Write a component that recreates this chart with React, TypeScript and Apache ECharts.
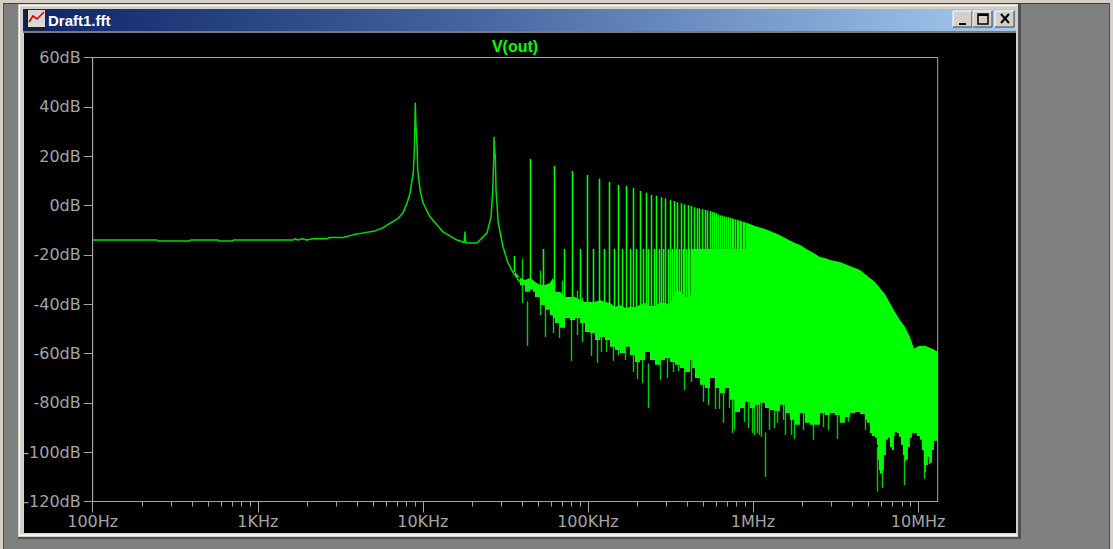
import React, { useEffect, useRef } from "react";
import * as echarts from "echarts";

// ---- Data (frequencies in kHz, levels in dB) ----
const curveKHz = [0.1,0.157,0.245,0.25,0.388,0.39,0.574,0.58,0.708,0.71,0.99,1.635,1.68,1.75,1.86,1.985,2.15,2.63,2.7,3.285,3.775,4.464,5.13,5.74,6.5,7.08,7.59,8.02,8.36,8.59,8.75,8.9,9.0,9.07,9.215,9.31,9.62,10.03,11.06,13.25,16.11,17.8,18.0,18.2,18.53,21.3,24.48,25.89,26.52,26.9,27.0,27.1,27.49,27.75,28.64,30.6,32.8,35.3,38.8];
const curveDb = [-14,-14,-14,-14.4,-14.4,-14,-14,-14.4,-14.4,-14,-14,-14,-13.5,-14,-13.5,-14,-13.5,-13.5,-13,-13,-11.9,-11,-10.3,-9,-6.7,-5.2,-2.9,1,4.9,10,13.2,24,41.7,33,25.3,14.4,6.3,1,-4.6,-10.7,-14,-15,-10.6,-15.2,-15.2,-15.2,-11.1,-4.6,6.3,20,27.9,24,19.7,6.3,-7.1,-16.8,-23.3,-27.3,-31];

const topKHz = [36.18,38.79,41.59,44.6,46.5,47.8,51.3,55,58.9,61.4,63.2,67.8,72.6,77.9,83.5,89.6,96,103,110.4,118.4,126.9,136.1,145.9,156.4,167.7,179.8,192.8,206.8,221.7,237.7,254.8,273.2,293,314,337,361,387,415,428,431,915,918,958,1027,1102,1181,1266,1358,1456,1561,1674,1794,1924,2063,2212,2372,2543,2727,2924,3135,3361,3604,3864,4143,4442,4763,5107,5476,5871,6295,6750,7237,7760,8320,8921,9456,9900,10256,10997,11791,12642,13180];
const topDb = [-26.9,-29.4,-30.2,-29.4,-30.2,-31,-32.2,-32.2,-31.4,-29.4,-35,-35,-37.1,-37.1,-37.1,-38.3,-39.1,-39.1,-39.1,-38.3,-39.1,-39.5,-41.1,-40.3,-41.5,-41.1,-41.1,-40.3,-39.5,-40.7,-40.7,-39.5,-39.5,-40.3,-35,-34.6,-37.1,-37.1,-34.2,-17.6,-17.6,-7.1,-7.5,-8.3,-8.9,-9.5,-10.3,-11.1,-12.1,-13.2,-14.2,-15.2,-16,-17.2,-18.4,-19.6,-20.9,-21.3,-22.1,-22.5,-22.9,-23.7,-24.5,-25.3,-26.1,-27.8,-29.4,-31,-33.4,-35.9,-39.5,-43.2,-46.4,-49.2,-53.3,-58.1,-57.3,-56.9,-56.9,-57.7,-58.6,-59.4];

const lowKHz = [36.18,38.79,41.59,44.6,46.5,47.8,51.3,55,58.9,61.4,63.2,67.8,72.6,77.9,83.5,89.6,96,103,110.4,118.4,126.9,136.1,145.9,156.4,167.7,179.8,192.8,206.8,221.7,237.7,254.8,273.2,293,314,337,361,387,415,428,445,477,512,549,588,631,676,725,777,834,894,958,1027,1102,1181,1266,1358,1456,1561,1674,1794,1924,2063,2212,2372,2543,2727,2924,3135,3361,3604,3864,4143,4442,4763,4898,5107,5252,5476,5631,5710,5790,5871,6037,6208,6384,6565,6750,6942,7138,7237,7442,7653,7870,8092,8320,8437,8676,8921,9174,9565,9836,10256,10546,10845,10997,11152,11467,11791,12125,12468,13180];
const lowDb = [-29,-32.2,-35,-34.2,-35,-37.1,-40.3,-42.3,-44.4,-45.6,-47.6,-49.6,-45.6,-46.4,-45.6,-47.6,-51.3,-51.7,-54.5,-53.3,-54.5,-57.3,-58.6,-59.8,-57.3,-60.6,-63.4,-62.6,-59.4,-62.6,-64.6,-62.6,-61.8,-63.4,-64.6,-65.9,-67.5,-62.6,-66,-69.9,-72.7,-74,-69.9,-74,-76,-74,-78.8,-83.7,-82.1,-79.6,-82.1,-80.8,-80,-82.1,-82.9,-83.3,-80.8,-84.1,-86.9,-88.9,-84.1,-88.1,-88.9,-88.9,-84.1,-84.9,-84.1,-84.9,-88.1,-85.7,-84.1,-83.7,-84.5,-86.9,-88.1,-92.2,-93.4,-94.2,-97,-103.1,-107.2,-108.8,-107.2,-101.1,-95,-94.2,-97.9,-99.1,-93.4,-91.8,-92.2,-93.8,-97,-101.1,-103.9,-103.1,-97.9,-94.2,-92.2,-92.2,-93.4,-95,-99.1,-105.2,-108,-105.2,-101.9,-104.3,-99.1,-95.4,-94.6];

const oddKHz = [45,63,81,99,117,135,153,171,189,207,225,243,261,279,297,315,333,351,369,387,405,423,441,459,477,495,513,531,549,567,585,603,621,639,657,675,693,711,729,747,765,783,801,819,837,855,873,891,909];
const oddTop = [18.9,16,14,12.4,10.9,9.5,8.3,7.9,7.1,5.9,5.2,4.3,3.9,3.3,2.9,2.2,1.8,1.3,0.9,0.5,0.2,-0.2,-0.7,-1.1,-1.2,-1.5,-1.8,-2,-2.2,-2.6,-2.8,-3.1,-3.6,-4,-4.1,-4.4,-4.6,-4.7,-5,-5.3,-5.4,-5.6,-5.9,-6,-6.2,-6.4,-6.6,-6.8,-7];
const oddFloor = [-32,-40];

const evenKHz = [36,54,72,90,108,126,144,162,180,198,216,234,252,270,288,306,324,342,360,378,396,414,432,450];
const evenTop = [-20.5,-17.6,-17.6,-17.6,-17.6,-17.6,-17.6,-17.6,-17.6,-17.6,-17.6,-17.6,-17.6,-17.6,-17.6,-17.6,-17.6,-17.6,-17.6,-17.6,-17.6,-17.6,-17.6,-17.6];
const evenFloor = [-27,-36,-40];
const spikeFloor = -44;

const dipKHz = [40.3,43.2,51.3,55,62.3,66.9,70.6,79.8,86.9,93,105,114,121,129,143,153,169,188,200,213,234,276,304,328,356,387,424,498,534,596,631,665,725,752,777,855,894,935,1000,1060,1027,1102,1130,1187,1266,1358,1410,1525,1580,1717,1794,2030,2310,2660,2870,3270,3810,4830,5700,6050,8320,11000,11800];
const dipDb = [-39.5,-56.9,-44.4,-53.3,-51.7,-53.7,-48.4,-63,-52.5,-55.3,-61,-63.8,-59.4,-59.4,-63,-60.6,-62.6,-67.5,-70.3,-71.9,-82.1,-70.7,-69.9,-67.5,-67.1,-74.8,-71.5,-79.6,-80.8,-82.5,-82.5,-88.1,-82.1,-92.2,-91,-81.7,-87.7,-90.2,-92.2,-92.2,-93,-93,-93.8,-110,-91,-90.2,-88.1,-86.9,-93,-93,-94.6,-91,-95,-89.8,-91,-94.6,-87.7,-91,-116,-114.5,-113.3,-110.8,-104.8];

const majorTicksHz = [100, 1000, 10000, 100000, 1000000, 10000000];
const majorLabels = ["100Hz", "1KHz", "10KHz", "100KHz", "1MHz", "10MHz"];
const minorTicksHz = [200,300,400,500,600,700,800,900,2000,3000,4000,5000,6000,7000,8000,9000,20000,30000,40000,50000,60000,70000,80000,90000,200000,300000,400000,500000,600000,700000,800000,900000,2000000,3000000,4000000,5000000,6000000,7000000,8000000,9000000];

const GREEN = "#00ff00";
const GRAY = "#a4a4a4";
const FRAME = "#d4d0c8";

const spikeRender = (color: string, width: number) => (_p: any, api: any) => {
  const a = api.coord([api.value(0), api.value(1)]);
  const b = api.coord([api.value(0), api.value(2)]);
  const x = Math.floor(a[0]) + 0.5;
  return { type: "line", shape: { x1: x, y1: a[1], x2: x, y2: b[1] }, style: { stroke: color, lineWidth: width } };
};

function chrome(): any[] {
  const r = (x: number, y: number, w: number, h: number, fill: any, z = -20) => ({ type: "rect", z, shape: { x, y, width: w, height: h }, style: { fill }, silent: true });
  const l = (x1: number, y1: number, x2: number, y2: number, stroke: string, w = 1) => ({ type: "line", z: -5, shape: { x1, y1, x2, y2 }, style: { stroke, lineWidth: w }, silent: true });
  const btn = (x: number) => [r(x, 11, 19, 16, FRAME, -10), l(x, 11, x + 19, 11, "#ffffff"), l(x, 11, x, 27, "#ffffff"), l(x, 27, x + 19, 27, "#404040"), l(x + 19, 11, x + 19, 27, "#404040")];
  return [
    r(0, 0, 1113, 3, FRAME),
    r(0, 3, 1113, 1, "#404040"),
    r(0, 0, 3, 549, FRAME),
    r(3, 4, 1, 545, "#505050"),
    r(1110, 0, 3, 549, FRAME),
    r(1109, 4, 1, 545, "#505050"),
    r(18, 4, 1003, 535, "#505050"),
    r(18, 4, 1000, 533, FRAME),
    r(19, 5, 998, 1, "#ffffff"),
    r(19, 5, 1, 531, "#ffffff"),
    r(19, 534, 998, 2, "#f4f2ec"),
    r(23, 9, 993, 22, new echarts.graphic.LinearGradient(0, 0, 1, 0, [
      { offset: 0, color: "#0e2468" },
      { offset: 0.45, color: "#44659f" },
      { offset: 1, color: "#a5cbf0" },
    ])),
    r(23, 31, 993, 2, "#7a7a7a"),
    r(24, 33, 992, 500, "#000000"),
    r(25, 10, 20, 20, "#d8d8d8", -10),
    r(25, 10, 3, 20, "#202020", -9),
    r(25, 27, 20, 3, "#202020", -9),
    { type: "polyline", z: -5, shape: { points: [[29, 22], [33, 16], [37, 19], [44, 12]] }, style: { stroke: "#e00000", lineWidth: 1.6, fill: "none" }, silent: true },
    { type: "text", z: -5, x: 48, y: 20, silent: true, style: { text: "Draft1.fft", fill: "#ffffff", font: "bold 15px 'Liberation Sans'", textVerticalAlign: "middle" } },
    ...btn(953), ...btn(973), ...btn(995),
    l(959, 24, 966, 24, "#000000", 2),
    { type: "rect", z: -5, shape: { x: 978, y: 14, width: 10, height: 10 }, style: { fill: "none", stroke: "#000000", lineWidth: 1.5 }, silent: true },
    { type: "rect", z: -5, shape: { x: 978, y: 14, width: 10, height: 2 }, style: { fill: "#000000" }, silent: true },
    l(1001, 14, 1009, 23, "#000000", 2),
    l(1009, 14, 1001, 23, "#000000", 2),
  ];
}

export default function App() {
  const ref = useRef<HTMLDivElement>(null);
  useEffect(() => {
    document.body.style.margin = "0";
    const chart = echarts.init(ref.current!, null, { renderer: "svg" });
    const hz = (k: number) => k * 1000;
    chart.setOption({
      animation: false,
      backgroundColor: "#808080",
      title: {
        text: "V(out)", left: 510, top: 33, textAlign: "center",
        textStyle: { color: GREEN, fontFamily: "Liberation Sans", fontWeight: "bold", fontSize: 16 },
      },
      grid: { left: 92.7, top: 57.5, width: 845, height: 444, show: true, backgroundColor: "transparent", borderColor: GRAY, borderWidth: 1 },
      graphic: { elements: chrome() },
      xAxis: {
        type: "log", logBase: 10, min: 100, max: 13150000,
        axisLine: { onZero: false, lineStyle: { color: GRAY, width: 1 } },
        axisTick: { length: 11, lineStyle: { color: GRAY }, customValues: majorTicksHz },
        minorTick: { show: false },
        splitLine: { show: false },
        axisLabel: {
          color: GRAY, fontFamily: "DejaVu Sans", fontSize: 16, margin: 12,
          customValues: majorTicksHz,
          formatter: (v: number) => majorLabels[majorTicksHz.findIndex((t) => Math.abs(t - v) / t < 0.01)] ?? "",
        },
      },
      yAxis: {
        type: "value", min: -120, max: 60, interval: 20,
        axisLine: { show: true, lineStyle: { color: GRAY, width: 1 } },
        axisTick: { show: true, length: 9, lineStyle: { color: GRAY } },
        splitLine: { show: false },
        axisLabel: { color: GRAY, fontFamily: "DejaVu Sans", fontSize: 16, margin: 12, formatter: "{value}dB" },
      },
      series: [
        {
          type: "custom", name: "minor ticks", silent: true, clip: false, z: 1,
          data: minorTicksHz.map((f) => [f, -120]),
          renderItem: (_p: any, api: any) => {
            const a = api.coord([api.value(0), api.value(1)]);
            const x = Math.floor(a[0]) + 0.5;
            return { type: "line", shape: { x1: x, y1: a[1], x2: x, y2: a[1] + 5 }, style: { stroke: GRAY, lineWidth: 1 } };
          },
        },
        {
          type: "custom", name: "V(out) dips", silent: true, z: 2,
          data: dipKHz.map((k, i) => [hz(k), dipDb[i] + 18, dipDb[i]]),
          renderItem: spikeRender("#00d000", 1.4),
        },
        {
          type: "custom", name: "V(out) band", silent: true, z: 3, clip: true,
          data: [[hz(topKHz[0]), topDb[0]]],
          renderItem: (_p: any, api: any) => {
            const top = topKHz.map((k, i) => api.coord([hz(k), topDb[i]]));
            const low: number[][] = [];
            lowKHz.forEach((k, i) => {
              low.push(api.coord([hz(k), lowDb[i]]));
              low.push(api.coord([hz(lowKHz[i + 1] ?? k), lowDb[i]]));
            });
            return { type: "polygon", shape: { points: [...top, ...low.reverse()] }, style: { fill: GREEN } };
          },
        },
        {
          type: "custom", name: "V(out) odd", silent: true, z: 4,
          data: oddKHz.map((k, i) => [hz(k), oddTop[i], oddFloor[i] ?? spikeFloor]),
          renderItem: spikeRender(GREEN, 1.6),
        },
        {
          type: "custom", name: "V(out) even", silent: true, z: 4,
          data: evenKHz.map((k, i) => [hz(k), evenTop[i], evenFloor[i] ?? spikeFloor]),
          renderItem: spikeRender(GREEN, 1.6),
        },
        {
          type: "line", name: "V(out)", silent: true, z: 5, symbol: "none", showSymbol: false,
          data: curveKHz.map((k, i) => [hz(k), curveDb[i]]),
          lineStyle: { color: "#00e000", width: 1.5 },
        },
      ],
    });
    return () => chart.dispose();
  }, []);
  return <div ref={ref} style={{ position: "absolute", left: 0, top: 0, width: 1113, height: 549 }} />;
}
